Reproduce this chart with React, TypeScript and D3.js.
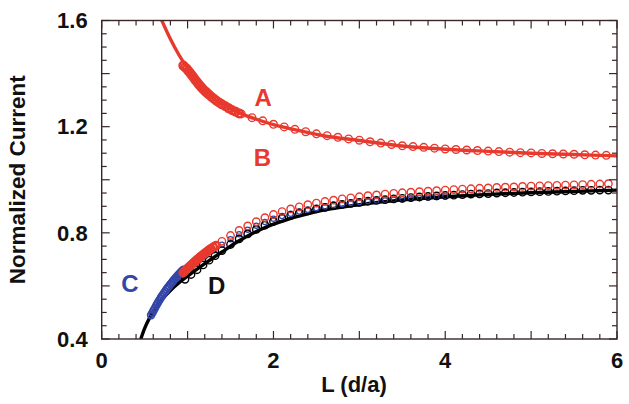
import * as d3 from "d3"
import { useMemo } from "react"

// curve A: fitted line and markers (normalized current vs L)
const aLineL = [0.66, 0.7, 0.8, 0.9, 1.0, 1.2, 1.4, 1.6, 1.8, 2.0, 2.3, 2.6, 3.0, 3.5, 4.0, 4.5, 5.0, 5.5, 6.0]
const aLineI = [1.63, 1.6, 1.53, 1.47, 1.42, 1.335, 1.285, 1.252, 1.228, 1.208, 1.185, 1.165, 1.148, 1.127, 1.115, 1.107, 1.1, 1.095, 1.09]
const aDenseL = [0.95, 0.97, 0.99, 1.01, 1.03, 1.05, 1.07, 1.09, 1.11, 1.13, 1.15, 1.17, 1.19, 1.21, 1.23, 1.25, 1.28, 1.31, 1.34, 1.37, 1.4, 1.44, 1.48, 1.52, 1.56, 1.6]
const aDenseI = [1.43, 1.424, 1.418, 1.41, 1.402, 1.394, 1.385, 1.376, 1.368, 1.36, 1.352, 1.345, 1.338, 1.332, 1.326, 1.32, 1.312, 1.304, 1.297, 1.29, 1.284, 1.277, 1.269, 1.262, 1.256, 1.25]
const aMarkL = [1.625, 1.75, 1.875, 2.0, 2.125, 2.25, 2.375, 2.5, 2.625, 2.75, 2.875, 3.0, 3.125, 3.25, 3.375, 3.5, 3.625, 3.75, 3.875, 4.0, 4.125, 4.25, 4.375, 4.5, 4.625, 4.75, 4.875, 5.0, 5.125, 5.25, 5.375, 5.5, 5.625, 5.75, 5.875]
const aMarkI = [1.248, 1.234, 1.222, 1.209, 1.199, 1.19, 1.181, 1.173, 1.166, 1.16, 1.154, 1.149, 1.143, 1.138, 1.133, 1.128, 1.125, 1.122, 1.119, 1.116, 1.114, 1.112, 1.11, 1.108, 1.106, 1.104, 1.102, 1.101, 1.099, 1.098, 1.097, 1.096, 1.094, 1.093, 1.092]

// curve B markers
const bDenseL = [0.95, 0.97, 0.99, 1.01, 1.03, 1.05, 1.07, 1.09, 1.11, 1.13, 1.15, 1.17, 1.19, 1.21, 1.23, 1.25, 1.27, 1.3, 1.33]
const bDenseI = [0.65, 0.657, 0.663, 0.669, 0.675, 0.681, 0.687, 0.693, 0.699, 0.704, 0.71, 0.715, 0.72, 0.725, 0.73, 0.735, 0.74, 0.746, 0.752]
const bMarkL = [1.4, 1.5, 1.6, 1.7, 1.8, 1.9, 2.0, 2.1, 2.2, 2.3, 2.4, 2.5, 2.6, 2.7, 2.8, 2.9, 3.0, 3.1, 3.2, 3.3, 3.4, 3.5, 3.6, 3.7, 3.8, 3.9, 4.0, 4.1, 4.2, 4.3, 4.4, 4.5, 4.6, 4.7, 4.8, 4.9, 5.0, 5.1, 5.2, 5.3, 5.4, 5.5, 5.6, 5.7, 5.8, 5.9]
const bMarkI = [0.768, 0.79, 0.809, 0.826, 0.842, 0.857, 0.869, 0.88, 0.89, 0.898, 0.906, 0.912, 0.918, 0.923, 0.928, 0.932, 0.936, 0.94, 0.943, 0.946, 0.949, 0.951, 0.953, 0.955, 0.957, 0.959, 0.961, 0.963, 0.965, 0.966, 0.968, 0.969, 0.971, 0.972, 0.973, 0.975, 0.976, 0.977, 0.978, 0.979, 0.98, 0.981, 0.982, 0.983, 0.984, 0.985]

// curve C markers
const cDenseL = [0.575, 0.59, 0.605, 0.62, 0.635, 0.65, 0.665, 0.68, 0.695, 0.71, 0.725, 0.74, 0.755, 0.77, 0.785, 0.8, 0.815, 0.83, 0.845, 0.86, 0.875, 0.89, 0.905, 0.92, 0.935, 0.95]
const cDenseI = [0.49, 0.499, 0.508, 0.517, 0.526, 0.535, 0.543, 0.551, 0.559, 0.566, 0.573, 0.58, 0.587, 0.594, 0.6, 0.606, 0.612, 0.618, 0.624, 0.63, 0.635, 0.641, 0.646, 0.651, 0.656, 0.661]
const cMarkL = [1.0, 1.1, 1.2, 1.3, 1.4, 1.5, 1.6, 1.7, 1.8, 1.9, 2.0, 2.1, 2.2, 2.3, 2.4, 2.5, 2.6, 2.7, 2.8, 2.9, 3.0, 3.1, 3.2, 3.3, 3.4, 3.5, 3.6, 3.7, 3.8, 3.9, 4.0]
const cMarkI = [0.672, 0.692, 0.712, 0.733, 0.755, 0.776, 0.795, 0.812, 0.827, 0.841, 0.853, 0.863, 0.872, 0.88, 0.887, 0.893, 0.899, 0.904, 0.908, 0.912, 0.916, 0.919, 0.921, 0.923, 0.925, 0.927, 0.929, 0.931, 0.933, 0.935, 0.937]

// curve D: fitted line and markers
const dLineL = [0.44, 0.5, 0.55, 0.6, 0.7, 0.8, 0.9, 1.0, 1.2, 1.4, 1.6, 1.8, 2.0, 2.5, 3.0, 3.5, 4.0, 4.5, 5.0, 5.5, 6.0]
const dLineI = [0.385, 0.44, 0.475, 0.503, 0.548, 0.583, 0.612, 0.637, 0.684, 0.728, 0.77, 0.805, 0.833, 0.88, 0.906, 0.924, 0.936, 0.945, 0.951, 0.956, 0.961]
const dMarkL = [0.97, 1.04, 1.11, 1.18, 1.25, 1.32, 1.4, 1.5, 1.6, 1.7, 1.8, 1.9, 2.0, 2.1, 2.2, 2.3, 2.4, 2.5, 2.6, 2.7, 2.8, 2.9, 3.0, 3.1, 3.2, 3.3, 3.4, 3.5, 3.6, 3.7, 3.8, 3.9, 4.0, 4.1, 4.2, 4.3, 4.4, 4.5, 4.6, 4.7, 4.8, 4.9, 5.0, 5.1, 5.2, 5.3, 5.4, 5.5, 5.6, 5.7, 5.8, 5.9]
const dMarkI = [0.625, 0.643, 0.661, 0.679, 0.697, 0.714, 0.733, 0.756, 0.777, 0.796, 0.813, 0.829, 0.843, 0.855, 0.866, 0.875, 0.883, 0.89, 0.896, 0.902, 0.907, 0.911, 0.915, 0.919, 0.922, 0.925, 0.928, 0.93, 0.933, 0.935, 0.937, 0.939, 0.941, 0.942, 0.944, 0.946, 0.947, 0.948, 0.95, 0.951, 0.952, 0.953, 0.954, 0.955, 0.956, 0.957, 0.958, 0.959, 0.96, 0.96, 0.961, 0.961]

const xTickLabels = [0, 2, 4, 6]
const yTickLabels = [0.4, 0.8, 1.2, 1.6]
const curveLabels = ["A", "B", "C", "D"]

const RED = "#e8392e"
const BLUE = "#3446a8"
const AXIS = "#3a2626"
const FONT = "'Liberation Sans', Arial, Helvetica, sans-serif"

const zip = (xs: number[], ys: number[]) => xs.map((x, i) => [x, ys[i]] as [number, number])

export default function App() {
    const width = 629
    const height = 404
    const MARGIN = { left: 101.7, right: 12, top: 20.5, bottom: 65 }

    const x = useMemo(() => d3.scaleLinear().domain([0, 6]).range([MARGIN.left, width - MARGIN.right]), [])
    const y = useMemo(() => d3.scaleLinear().domain([0.4, 1.6]).range([height - MARGIN.bottom, MARGIN.top]), [])

    const line = d3.line<[number, number]>()
        .x((d) => x(d[0]))
        .y((d) => y(d[1]))
        .curve(d3.curveCatmullRom)

    const x0 = x.range()[0], x1 = x.range()[1]
    const y0 = y.range()[0], y1 = y.range()[1]

    const xMinor = x.ticks(30)
    const xMajor = x.ticks(6)
    const yMinor = y.ticks(24)
    const yMajor = y.ticks(6)

    const circles = (pts: [number, number][], color: string, r: number, sw: number, key: string) =>
        pts.map((p, i) => (
            <circle key={key + i} cx={x(p[0])} cy={y(p[1])} r={r} fill="none" stroke={color} strokeWidth={sw} />
        ))

    // label anchor positions in data units
    const labelPos: Record<string, [number, number, string]> = {
        A: [1.88, 1.31, RED],
        B: [1.87, 1.085, RED],
        C: [0.33, 0.61, BLUE],
        D: [1.34, 0.605, "#111"],
    }

    return (
        <svg width={width} height={height} style={{ position: "absolute", left: 0, top: 0, background: "#fff" }}>
            <defs>
                <clipPath id="plot">
                    <rect x={x0} y={y1} width={x1 - x0} height={y0 - y1} />
                </clipPath>
            </defs>

            <g clipPath="url(#plot)">
                <path d={line(zip(dLineL, dLineI)) ?? ""} fill="none" stroke="#000" strokeWidth={3.4} />
                {circles(zip(cMarkL, cMarkI), BLUE, 2.6, 1.3, "cm")}
                {circles(zip(dMarkL, dMarkI), "#000", 3.7, 1.4, "dm")}
                {circles(zip(cDenseL, cDenseI), BLUE, 3.4, 1.8, "cd")}
                {circles(zip(bMarkL, bMarkI), RED, 3.7, 1.4, "bm")}
                {circles(zip(bDenseL, bDenseI), RED, 3.6, 2.4, "bd")}
                <path d={line(zip(aLineL, aLineI)) ?? ""} fill="none" stroke={RED} strokeWidth={3.4} />
                {circles(zip(aDenseL, aDenseI), RED, 3.8, 2.4, "ad")}
                {circles(zip(aMarkL, aMarkI), RED, 3.8, 1.4, "am")}
            </g>

            {/* frame */}
            <rect x={x0} y={y1} width={x1 - x0} height={y0 - y1} fill="none" stroke={AXIS} strokeWidth={1.4} />

            {/* ticks, inward on all four sides */}
            {xMinor.map((t) => {
                const len = xMajor.includes(t) ? 8 : 5
                return (
                    <g key={"xt" + t} stroke={AXIS} strokeWidth={1.2}>
                        <line x1={x(t)} x2={x(t)} y1={y0} y2={y0 - len} />
                        <line x1={x(t)} x2={x(t)} y1={y1} y2={y1 + len} />
                    </g>
                )
            })}
            {yMinor.map((t) => {
                const major = yMajor.some((m) => Math.abs(m - t) < 1e-9)
                const len = major ? 8 : 5
                return (
                    <g key={"yt" + t} stroke={AXIS} strokeWidth={1.2}>
                        <line x1={x0} x2={x0 + len} y1={y(t)} y2={y(t)} />
                        <line x1={x1} x2={x1 - len} y1={y(t)} y2={y(t)} />
                    </g>
                )
            })}

            {/* tick labels */}
            {xTickLabels.map((t) => (
                <text key={"xl" + t} x={x(t)} y={y0 + 29} textAnchor="middle" fontFamily={FONT} fontWeight="bold" fontSize={22} fill="#111">
                    {t}
                </text>
            ))}
            {yTickLabels.map((t) => (
                <text key={"yl" + t} x={x0 - 14} y={y(t) + 7.8} textAnchor="end" fontFamily={FONT} fontWeight="bold" fontSize={22} fill="#111">
                    {t.toFixed(1)}
                </text>
            ))}

            {/* axis titles */}
            <text x={354} y={y0 + 53} textAnchor="middle" fontFamily={FONT} fontWeight="bold" fontSize={22} fill="#111">
                L (d/a)
            </text>
            <text transform={`translate(25, ${(y0 + y1) / 2}) rotate(-90)`} textAnchor="middle" fontFamily={FONT} fontWeight="bold" fontSize={22.5} fill="#111">
                Normalized Current
            </text>

            {/* curve labels */}
            {curveLabels.map((k) => {
                const [lx, ly, c] = labelPos[k]
                return (
                    <text key={k} x={x(lx)} y={y(ly) + 9} textAnchor="middle" fontFamily={FONT} fontWeight="bold" fontSize={24} fill={c}>
                        {k}
                    </text>
                )
            })}
        </svg>
    )
}
